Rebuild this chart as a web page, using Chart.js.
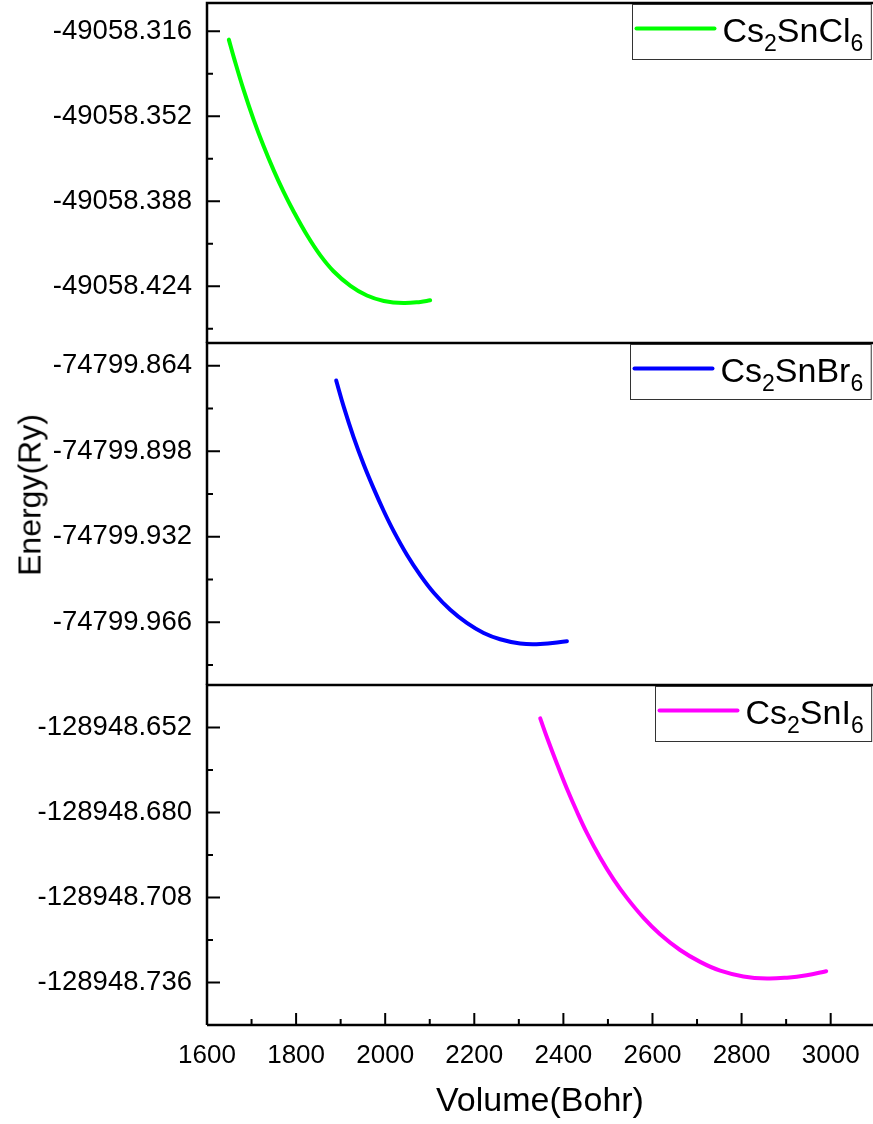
<!DOCTYPE html>
<html>
<head>
<meta charset="utf-8">
<title>Energy vs Volume</title>
<script src="https://cdn.jsdelivr.net/npm/chart.js@4.4.1/dist/chart.umd.min.js"></script>
<style>
  body { margin: 0; background: #fff; }
  #wrap { position: relative; width: 873px; height: 1124px; overflow: hidden; }
  #wrap canvas { position: absolute; left: 0; top: 0; }
  #ylab {
    position: absolute; left: 30px; top: 495px;
    transform: translate(-50%, -50%) rotate(-90deg);
    font: 32px 'Liberation Sans', Arial, sans-serif; color: #000; white-space: nowrap;
  }
</style>
</head>
<body>
<div id="wrap">
  <canvas id="cl" width="873" height="1124"></canvas>
  <canvas id="br" width="873" height="1124"></canvas>
  <canvas id="io" width="873" height="1124"></canvas>
  <div id="ylab">Energy(Ry)</div>
</div>
<script>
const FONT = "'Liberation Sans', Arial, sans-serif"

// shared volume axis
const xTicks = [1600, 1800, 2000, 2200, 2400, 2600, 2800, 3000]
const xMin = 1600
const xMax = 3095

// Cs2SnCl6
const clVolume = [1649, 1660, 1682, 1705, 1727, 1750, 1772, 1795, 1825, 1854, 1884, 1922, 1959, 1997, 2041, 2079, 2101]
const clEnergy = [-49058.3195, -49058.3269, -49058.3407, -49058.3536, -49058.3646, -49058.3750, -49058.3840, -49058.3925,
  -49058.4025, -49058.4108, -49058.4176, -49058.4238, -49058.4279, -49058.4302, -49058.4311, -49058.4306, -49058.4299]
const clTicks = [-49058.316, -49058.352, -49058.388, -49058.424]
const clRange = [-49058.448, -49058.304]

// Cs2SnBr6
const brVolume = [1890, 1907, 1929, 1952, 1974, 1997, 2019, 2049, 2079, 2109, 2146, 2184, 2221, 2258, 2303, 2348, 2408]
const brEnergy = [-74799.8699, -74799.8804, -74799.8924, -74799.9034, -74799.9128, -74799.9219, -74799.9298, -74799.9393,
  -74799.9474, -74799.9543, -74799.9611, -74799.9664, -74799.9703, -74799.9728, -74799.9745, -74799.9747, -74799.9736]
const brTicks = [-74799.864, -74799.898, -74799.932, -74799.966]
const brRange = [-74799.991, -74799.855]

// Cs2SnI6
const ioVolume = [2348, 2363, 2386, 2408, 2430, 2453, 2483, 2513, 2543, 2580, 2617, 2662, 2707, 2752, 2804, 2857, 2902, 2946, 2990]
const ioEnergy = [-128948.6490, -128948.6552, -128948.6641, -128948.6722, -128948.6796, -128948.6868, -128948.6950,
  -128948.7021, -128948.7082, -128948.7147, -128948.7201, -128948.7253, -128948.7292, -128948.7321, -128948.7340,
  -128948.7347, -128948.7344, -128948.7336, -128948.7323]
const ioTicks = [-128948.652, -128948.680, -128948.708, -128948.736]
const ioRange = [-128948.750, -128948.638]

// label text like Cs2SnCl6 -> digits drawn as subscripts
function drawFormula (ctx, text, x, y) {
  const parts = text.match(/[A-Za-z]+|\d+/g)
  parts.forEach(p => {
    const sub = /\d/.test(p)
    ctx.font = (sub ? '23px ' : '34px ') + FONT
    ctx.fillText(p, x, sub ? y + 9 : y)
    x += ctx.measureText(p).width
  })
  return x
}

// frame, inward ticks and boxed legend for each panel
const frame = {
  id: 'frame',
  afterDraw (chart, args, opts) {
    const { ctx, chartArea: a, scales: { x, y } } = chart
    ctx.save()
    ctx.strokeStyle = '#000'
    ctx.lineWidth = 2.5
    ctx.beginPath()
    ctx.moveTo(a.left, a.bottom)
    ctx.lineTo(a.left, a.top)
    ctx.lineTo(a.right, a.top)
    if (opts.bottomAxis) {
      ctx.moveTo(a.left, a.bottom)
      ctx.lineTo(a.right, a.bottom)
    }
    ctx.stroke()

    ctx.lineWidth = 2
    ctx.beginPath()
    const yv = y.ticks.map(t => t.value)
    const half = (yv[1] - yv[0]) / 2
    const minors = new Set()
    yv.forEach(v => {
      const py = y.getPixelForValue(v)
      ctx.moveTo(a.left, py)
      ctx.lineTo(a.left + 13, py)
      ;[v - half, v + half].forEach(m => {
        if (m >= y.min - 1e-6 && m <= y.max + 1e-6) minors.add(m.toFixed(4))
      })
    })
    minors.forEach(m => {
      const py = y.getPixelForValue(+m)
      ctx.moveTo(a.left, py)
      ctx.lineTo(a.left + 6, py)
    })
    if (opts.bottomAxis) {
      xTicks.forEach(v => {
        const px = x.getPixelForValue(v)
        ctx.moveTo(px, a.bottom)
        ctx.lineTo(px, a.bottom - 12)
        if (v + 100 <= xMax) {
          const pm = x.getPixelForValue(v + 100)
          ctx.moveTo(pm, a.bottom)
          ctx.lineTo(pm, a.bottom - 6)
        }
      })
    }
    ctx.stroke()

    // legend
    const ds = chart.data.datasets[0]
    let tw = 0
    ds.label.match(/[A-Za-z]+|\d+/g).forEach(p => {
      ctx.font = (/\d/.test(p) ? '23px ' : '34px ') + FONT
      tw += ctx.measureText(p).width
    })
    const bw = 3 + 80 + 7 + tw + 8
    const bx = Math.round(a.right - 2 - bw) + 0.5
    const by = Math.round(a.top + 1) + 0.5
    ctx.fillStyle = '#fff'
    ctx.fillRect(bx, by, bw, 55)
    ctx.strokeStyle = '#333'
    ctx.lineWidth = 1
    ctx.strokeRect(bx, by, bw, 55)
    ctx.strokeStyle = ds.borderColor
    ctx.lineWidth = 4
    ctx.lineCap = 'round'
    ctx.beginPath()
    ctx.moveTo(bx + 4, by + 24)
    ctx.lineTo(bx + 82, by + 24)
    ctx.stroke()
    ctx.fillStyle = '#000'
    ctx.textBaseline = 'alphabetic'
    ctx.textAlign = 'left'
    drawFormula(ctx, ds.label, bx + 90, by + 37)
    ctx.restore()
  }
}

function makePanel (id, label, color, vol, en, ticks, range, top, bottom, showX) {
  return new Chart(document.getElementById(id), {
    type: 'line',
    data: {
      datasets: [{
        label: label,
        data: vol.map((v, i) => ({ x: v, y: en[i] })),
        borderColor: color,
        borderWidth: 4,
        borderCapStyle: 'round',
        borderJoinStyle: 'round',
        pointRadius: 0,
        tension: 0.4,
        fill: false
      }]
    },
    options: {
      responsive: false,
      animation: false,
      events: [],
      layout: { padding: { top: top, bottom: bottom, left: 0, right: 0 } },
      plugins: {
        legend: { display: false },
        tooltip: { enabled: false },
        frame: { bottomAxis: showX }
      },
      scales: {
        x: {
          type: 'linear',
          min: xMin,
          max: xMax,
          display: showX,
          grid: { display: false, drawTicks: false },
          border: { display: false },
          afterBuildTicks: s => { s.ticks = xTicks.map(v => ({ value: v })) },
          afterFit: s => {
            if (showX) s.height = 99
            s.paddingLeft = 0
            s.paddingRight = 0
          },
          ticks: {
            padding: 15,
            color: '#000',
            font: { family: FONT, size: 26 },
            maxRotation: 0,
            autoSkip: false,
            callback: v => String(v)
          },
          title: {
            display: true,
            text: 'Volume(Bohr)',
            color: '#000',
            font: { family: FONT, size: 34 },
            padding: { top: 0, bottom: 2 }
          }
        },
        y: {
          type: 'linear',
          min: range[0],
          max: range[1],
          grid: { display: false, drawTicks: false },
          border: { display: false },
          afterBuildTicks: s => { s.ticks = ticks.map(v => ({ value: v })) },
          afterFit: s => {
            s.width = 207
            s.paddingTop = 0
            s.paddingBottom = 0
          },
          ticks: {
            padding: 15,
            color: '#000',
            font: { family: FONT, size: 27.5 },
            autoSkip: false,
            callback: v => v.toFixed(3)
          }
        }
      }
    },
    plugins: [frame]
  })
}

makePanel('cl', 'Cs2SnCl6', '#00ff00', clVolume, clEnergy, clTicks, clRange, 3, 781, false)
makePanel('br', 'Cs2SnBr6', '#0000ff', brVolume, brEnergy, brTicks, brRange, 343, 439, false)
makePanel('io', 'Cs2SnI6', '#ff00ff', ioVolume, ioEnergy, ioTicks, ioRange, 685, 0, true)
</script>
</body>
</html>
